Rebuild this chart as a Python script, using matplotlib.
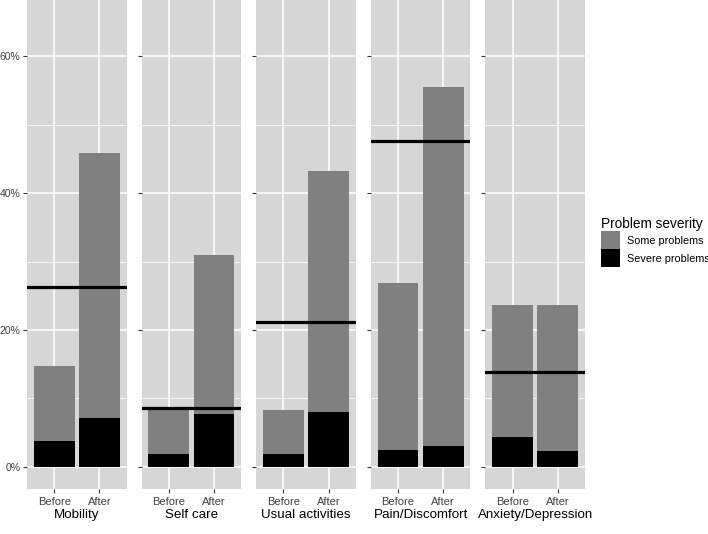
import numpy as np
import matplotlib.pyplot as plt
from matplotlib.patches import Patch

plt.rcParams['font.family'] = ['Liberation Sans', 'DejaVu Sans']

# values, in percent
dimensions = ["Mobility", "Self care", "Usual activities", "Pain/Discomfort", "Anxiety/Depression"]
periods = ["Before", "After"]
total_before = [14.8, 8.5, 8.3, 26.8, 23.6]
total_after = [45.9, 31.0, 43.3, 55.5, 23.6]
severe_before = [3.75, 1.9, 1.9, 2.5, 4.3]
severe_after = [7.1, 7.7, 8.0, 3.1, 2.3]
reference = [26.3, 8.6, 21.1, 47.7, 13.9]

severe = np.array([severe_before, severe_after]).T
some = np.array([total_before, total_after]).T - severe

W, H = 708, 534
fig = plt.figure(figsize=(W / 100, H / 100), dpi=100)

panel_bg = "#d6d6d6"
some_col = "#808080"
left0, pw, gap = 27, 99.6, 15
top, bottom = 0, 489

for i, dim in enumerate(dimensions):
    x0 = left0 + i * (pw + gap)
    ax = fig.add_axes([x0 / W, 1 - bottom / H, pw / W, (bottom - top) / H])
    ax.set_facecolor(panel_bg)
    for s in ax.spines.values():
        s.set_visible(False)
    xs = np.arange(1, 3)
    ax.bar(xs, severe[i], width=0.9, color="black", zorder=3)
    ax.bar(xs, some[i], width=0.9, bottom=severe[i], color=some_col, zorder=3)
    ax.axhline(reference[i], color="black", lw=2.3, zorder=4)
    ax.set_xlim(0.4, 2.6)
    ax.set_ylim(-3.25, 68.25)
    ax.set_yticks([0, 20, 40, 60])
    ax.set_yticks([10, 30, 50], minor=True)
    ax.set_xticks(xs)
    ax.set_xticklabels(periods, fontsize=8, color="#404040")
    ax.grid(True, which="major", color="white", lw=1.1, zorder=0)
    ax.grid(True, which="minor", axis="y", color="white", lw=0.55, zorder=0)
    ax.set_axisbelow(True)
    ax.tick_params(axis="x", which="major", length=3, color="#333333", width=0.8, pad=3)
    ax.tick_params(axis="y", which="major", length=3, color="#333333", width=0.8, pad=1.5)
    ax.tick_params(which="minor", length=0)
    if i == 0:
        ax.set_yticklabels(["0%", "20%", "40%", "60%"], fontsize=7.5, color="#404040")
    else:
        ax.set_yticklabels([])
    ax.set_xlabel(dim, fontsize=9.6, color="black", labelpad=1.5)

handles = [Patch(facecolor=some_col, edgecolor="none"), Patch(facecolor="black", edgecolor="none")]
leg = fig.legend(handles, ["Some problems", "Severe problems"], title="Problem severity",
                 loc="upper left", bbox_to_anchor=(599 / W, 1 - 215 / H), frameon=False,
                 prop={"size": 7.8}, title_fontsize=9.8, handlelength=1.75, handleheight=2.2,
                 labelspacing=0.0, handletextpad=0.6, borderaxespad=0, borderpad=0.2)
leg._legend_box.align = "left"

fig.savefig("out.png", dpi=100)
